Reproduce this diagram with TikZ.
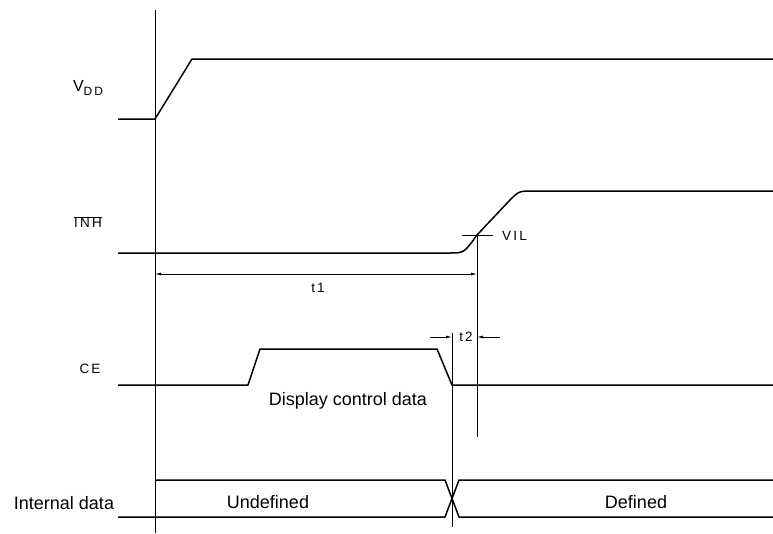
\documentclass[tikz,border=0pt]{standalone}
\usepackage{fontspec}
\setmainfont{Liberation Sans}
\newfontfamily\plotfont[LetterSpace=16]{Liberation Sans}
\usetikzlibrary{arrows.meta}

\begin{document}
\begin{tikzpicture}[x=1pt,y=-1pt,
  sig/.style={line width=1.5pt,line join=round},
  guide/.style={line width=0.8pt},
  lbl/.style={font=\fontsize{13.5}{14}\plotfont,inner sep=0pt},
  txt/.style={font=\fontsize{18}{18}\selectfont,inner sep=0pt},
  dim/.style={line width=0.8pt,-{Latex[length=6pt,width=3pt]}}]
 \useasboundingbox (0,0) rectangle (773,533);
 % signal names
 \node[lbl] (vdd)     at (88,88)  {\fontsize{16}{16}\plotfont V\raisebox{-4pt}{\fontsize{12}{12}\plotfont DD}};
 \node[lbl] (inh)     at (88,222) {$\overline{\hbox{\fontsize{13.5}{14}\plotfont INH}}$};
 \node[lbl] (ce)      at (90,369) {CE};
 \node[txt] (intdata) at (64,503) {Internal data};
 % reference line
 \coordinate (top) at (155,10);
 \coordinate (bot) at (155,533);
 \draw[guide] (top) -- (bot);
 % VDD
 \draw[sig] (118,119) -- (155,119) -- (192,59) -- (773,59);
 % INH
 \coordinate (vil) at (477,235);
 \draw[sig] (118,253) -- (450,253) .. controls (464,253) .. (vil)
   -- (510,200) .. controls (519,191) .. (534,191) -- (773,191);
 \coordinate (vilL) at (462,235);
 \coordinate (vilR) at (493,235);
 \draw[guide] (vilL) -- (vilR);
 \node[lbl,anchor=west] (viltext) at (502,236) {VIL};
 \coordinate (vilbot) at (477,437);
 \draw[guide] (vil) -- (vilbot);
 % t1
 \coordinate (t1L) at (155,274);
 \coordinate (t1R) at (477,274);
 \draw[dim,{Latex[length=6pt,width=3pt]}-{Latex[length=6pt,width=3pt]}] (t1L) -- (t1R);
 \node[lbl] (tone) at (318,288) {t1};
 % CE
 \draw[sig] (118,385) -- (248,385) -- (260,349) -- (437,349) -- (452,385) -- (773,385);
 \node[txt] (dispdata) at (348,401) {Display control data};
 \coordinate (cetop) at (452,333);
 \coordinate (cebot) at (452,527);
 \draw[guide] (cetop) -- (cebot);
 % t2
 \coordinate (t2a) at (452,337);
 \coordinate (t2b) at (477,337);
 \coordinate (t2L) at (430,337);
 \coordinate (t2R) at (500,337);
 \draw[dim] (t2L) -- (t2a);
 \draw[dim] (t2R) -- (t2b);
 \node[lbl] (ttwo) at (466,337) {t2};
 % internal data
 \draw[sig] (155,480) -- (445,480) -- (459,517) -- (773,517);
 \draw[sig] (118,517) -- (445,517) -- (459,480) -- (773,480);
 \node[txt] (undef) at (268,502) {Undefined};
 \node[txt] (def)   at (636,502) {Defined};
\end{tikzpicture}
\end{document}
